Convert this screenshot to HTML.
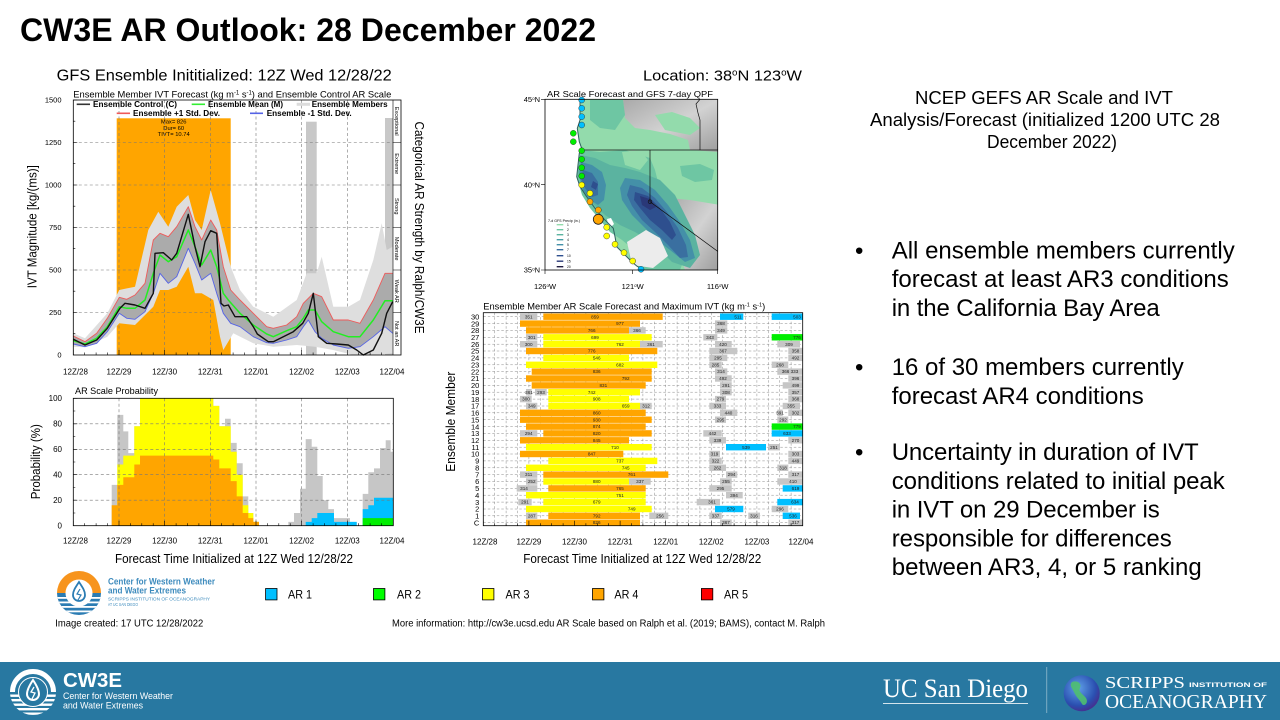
<!DOCTYPE html>
<html><head><meta charset="utf-8"><style>
body{margin:0;background:#fff}
svg{display:block}
text{font-family:"Liberation Sans",Arial,sans-serif;fill:#000}
.sr{font-family:"Liberation Serif","Times New Roman",serif}
.t5{font-size:4.6px;text-anchor:middle;fill:#222}
.o{fill:#ffa500}.y{fill:#ffff00}.g{fill:#c6c6c6}.b{fill:#00bfff}.gr{fill:#00ee00}
</style></head><body>
<svg width="1280" height="720" viewBox="0 0 1280 720" xmlns="http://www.w3.org/2000/svg">
<defs>
<clipPath id="mapclip"><rect x="545" y="99.3" width="172.7" height="170.7"/></clipPath>
<clipPath id="fl"><circle cx="33" cy="692" r="23"/></clipPath>
<clipPath id="ll"><circle cx="79" cy="593" r="22"/></clipPath>
<linearGradient id="terr" x1="0" y1="0" x2="1" y2="1"><stop offset="0" stop-color="#a9a9a9"/><stop offset="0.5" stop-color="#d2d2d2"/><stop offset="1" stop-color="#9c9c9c"/></linearGradient>
<radialGradient id="globe" cx="0.4" cy="0.35" r="0.7"><stop offset="0" stop-color="#5fa0e8"/><stop offset="0.7" stop-color="#2a4fb0"/><stop offset="1" stop-color="#4a2a8a"/></radialGradient>
</defs>

<!-- Title -->
<text x="20" y="41" font-size="32" font-weight="bold" textLength="576">CW3E AR Outlook: 28 December 2022</text>

<!-- ============ TOP-LEFT IVT CHART ============ -->
<text x="56.7" y="80.7" font-size="16" textLength="335" lengthAdjust="spacingAndGlyphs">GFS Ensemble Inititialized: 12Z Wed 12/28/22</text>
<text x="73.3" y="97.3" font-size="9.5" textLength="318" lengthAdjust="spacingAndGlyphs">Ensemble Member IVT Forecast (kg m<tspan font-size="6" baseline-shift="super">-1</tspan> s<tspan font-size="6" baseline-shift="super">-1</tspan>) and Ensemble Control AR Scale</text>

<rect x="116.7" y="118.3" width="114" height="236.7" fill="#ffa500"/>
<rect x="306" y="121.7" width="10.7" height="233.3" fill="#c8c8c8"/>
<rect x="385" y="118" width="8" height="237" fill="#c8c8c8"/>
<text x="173.7" y="123.6" font-size="5.8" text-anchor="middle">Max= 826</text>
<text x="173.7" y="129.8" font-size="5.8" text-anchor="middle">Dur= 60</text>
<text x="173.7" y="136" font-size="5.8" text-anchor="middle">TIVT= 10.74</text>

<g stroke="#777" stroke-width="0.6" stroke-dasharray="3,2.5" fill="none">
<path d="M73.3,312.5H393M73.3,270H393M73.3,227.5H393M73.3,185H393M73.3,142.5H393"/>
<path d="M119,100V355M164.6,100V355M210.3,100V355M256,100V355M301.6,100V355M347.3,100V355"/>
</g>

<polygon fill="#dedede" points="73.3,333.3 85,338.3 107.3,313.3 119.3,290 135,286.7 148.3,230 158.3,211.7 168.3,226.7 176.7,206.7 188.3,195 195,220 201.7,230 210.7,190 220,223.3 230.7,266.7 240,290 253.3,306.7 273.3,316.7 296.7,300 306.7,273.3 316.7,273.3 321.7,256.7 333.3,306.7 348.3,306.7 360,300 373.3,260 381.7,223.3 386.7,250 392.7,246.7 392.7,353.3 373.3,355 353.3,355 333.3,350 315,346.7 296.7,345 273.3,346.7 253.3,343.3 233.3,333.3 223.3,350 220,336.7 213.3,300 201.7,293.3 195,293.3 188.3,266.7 176.7,286.7 168.3,290 160,290 153.3,306.7 135,325 119.3,323.3 107.3,336.7 85,347.3 73.3,346.7"/>
<polygon fill="#ababab" points="73.3,336 85,341.7 96.7,333.3 107.3,318.3 119.3,297.3 126.7,299.3 135,295 145,283.3 153.3,240 160,233.3 168.3,236.7 176.7,226.7 188.3,206.7 195,226.7 201.7,240 210.7,220 216.7,230 223.3,266.7 230.7,290 240,300 253.3,313.3 266.7,326.7 273.3,328.3 286.7,325 296.7,316.7 303.3,303.3 313.3,293.3 321.7,296.7 333.3,320 348.3,320 360,323.3 373.3,300 385,273.3 392.7,273.3 392.7,333.3 385,326.7 373.3,336.7 360,346.7 348.3,348.3 333.3,345 321.7,338.3 315,331.7 308.3,320 303.3,326.7 296.7,336.7 286.7,340 273.3,343.3 266.7,342.7 253.3,336.7 240,326.7 230.7,323.3 223.3,313.3 216.7,293.3 210.7,273.3 201.7,280 195,263.3 188.3,248.3 176.7,276.7 168.3,283.3 160,273.3 153.3,293.3 145,311.7 135,319.3 126.7,318.3 119.3,313.3 107.3,331.7 96.7,343.3 85,346.7 73.3,344"/>
<g fill="none" stroke-linejoin="round">
<polyline stroke="#ef5a5a" stroke-width="0.9" points="73.3,336 85,341.7 96.7,333.3 107.3,318.3 119.3,297.3 126.7,299.3 135,295 145,283.3 153.3,240 160,233.3 168.3,236.7 176.7,226.7 188.3,206.7 195,226.7 201.7,240 210.7,220 216.7,230 223.3,266.7 230.7,290 240,300 253.3,313.3 266.7,326.7 273.3,328.3 286.7,325 296.7,316.7 303.3,303.3 313.3,293.3 321.7,296.7 333.3,320 348.3,320 360,323.3 373.3,300 385,273.3 392.7,273.3"/>
<polyline stroke="#5563e6" stroke-width="0.9" points="73.3,344 85,346.7 96.7,343.3 107.3,331.7 119.3,313.3 126.7,318.3 135,319.3 145,311.7 153.3,293.3 160,273.3 168.3,283.3 176.7,276.7 188.3,248.3 195,263.3 201.7,280 210.7,273.3 216.7,293.3 223.3,313.3 230.7,323.3 240,326.7 253.3,336.7 266.7,342.7 273.3,343.3 286.7,340 296.7,336.7 303.3,326.7 308.3,320 315,331.7 321.7,338.3 333.3,345 348.3,348.3 360,346.7 373.3,336.7 385,326.7 392.7,333.3"/>
<polyline stroke="#22ee22" stroke-width="1.5" points="73.3,340.7 85,344 96.7,338.3 107.3,326.7 119.3,306.7 126.7,308.3 135,308.3 145,300 153.3,273.3 160,255 168.3,261.7 176.7,256.7 188.3,230 195,246.7 201.7,265 210.7,250 216.7,266.7 223.3,293.3 228.3,300 240,313.3 253.3,325 266.7,334 273.3,336.7 286.7,330.7 296.7,326.7 303.3,318.3 308.3,310 315,310 321.7,321.7 333.3,331.7 348.3,336.7 360,336.7 373.3,320 385,300.7 392.7,300.7"/>
<polyline stroke="#111" stroke-width="1.4" points="73.3,339.3 85,345 96.7,340 107.3,328.3 120,308.3 125,303.3 135,305 145,308.3 153.3,293.3 155,253.3 163.3,252.7 171.7,260 176.7,253.3 188.3,214.3 195,246.7 200,266.7 205,241.7 210.7,230.7 216.7,233.3 221,303.3 224,306 228.3,305 235,316.7 246.7,316.7 253.3,326.7 257.3,334 268.3,341.7 273.3,341.7 283.3,336.7 293.3,331.7 302.7,323.3 308.3,313.3 313.3,293.3 318.3,336.7 326.7,343.3 336.7,344 348.3,345 356.7,350 363.3,355 373.3,350 381.7,333.3 386.7,313.3 392.7,301.7"/>
</g>

<g stroke-width="1.6">
<line x1="76.7" y1="104.3" x2="90" y2="104.3" stroke="#333"/>
<line x1="191.7" y1="104.3" x2="205" y2="104.3" stroke="#33ee33"/>
<line x1="296.7" y1="104.3" x2="310" y2="104.3" stroke="#dcdcdc" stroke-width="3"/>
<line x1="116.7" y1="113.3" x2="130" y2="113.3" stroke="#ef5a5a"/>
<line x1="250" y1="113.3" x2="263" y2="113.3" stroke="#5563e6"/>
</g>
<g font-size="8.3" font-weight="bold">
<text x="93" y="107.2" textLength="84" lengthAdjust="spacingAndGlyphs">Ensemble Control (C)</text>
<text x="208" y="107.2" textLength="75" lengthAdjust="spacingAndGlyphs">Ensemble Mean (M)</text>
<text x="311.7" y="107.2" textLength="76" lengthAdjust="spacingAndGlyphs">Ensemble Members</text>
<text x="133" y="116.2" textLength="87" lengthAdjust="spacingAndGlyphs">Ensemble +1 Std. Dev.</text>
<text x="266.7" y="116.2" textLength="85" lengthAdjust="spacingAndGlyphs">Ensemble -1 Std. Dev.</text>
</g>

<rect x="73.3" y="100" width="327.7" height="255" fill="none" stroke="#000" stroke-width="0.8"/>
<line x1="393" y1="100" x2="393" y2="355" stroke="#000" stroke-width="0.6"/>
<path d="M393,142.5H401M393,185H401M393,227.5H401M393,270H401M393,312.5H401" stroke="#000" stroke-width="0.6"/>
<g font-size="5.6" fill="#777" text-anchor="middle">
<text transform="translate(395.2,121.2) rotate(90)" fill="#777">Exceptional</text>
<text transform="translate(395.2,163.7) rotate(90)" fill="#777">Extreme</text>
<text transform="translate(395.2,206.2) rotate(90)" fill="#777">Strong</text>
<text transform="translate(395.2,248.7) rotate(90)" fill="#777">Moderate</text>
<text transform="translate(395.2,291.2) rotate(90)" fill="#777">Weak AR</text>
<text transform="translate(395.2,333.7) rotate(90)" fill="#777">Not an AR</text>
</g>
<g stroke="#000" stroke-width="0.6">
<path d="M73.3,355v-5M84.7,355v-2.5M96.1,355v-2.5M107.5,355v-2.5M119,355v-5M130.4,355v-2.5M141.8,355v-2.5M153.2,355v-2.5M164.6,355v-5M176.1,355v-2.5M187.5,355v-2.5M198.9,355v-2.5M210.3,355v-5M221.7,355v-2.5M233.1,355v-2.5M244.6,355v-2.5M256,355v-5M267.4,355v-2.5M278.8,355v-2.5M290.2,355v-2.5M301.6,355v-5M313.1,355v-2.5M324.5,355v-2.5M335.9,355v-2.5M347.3,355v-5M358.7,355v-2.5M370.1,355v-2.5M381.6,355v-2.5"/>
<path d="M73.3,100h4M73.3,142.5h4M73.3,185h4M73.3,227.5h4M73.3,270h4M73.3,312.5h4M73.3,121.2h2M73.3,163.7h2M73.3,206.2h2M73.3,248.7h2M73.3,291.2h2M73.3,333.7h2"/>
</g>
<g font-size="7.5" text-anchor="end">
<text x="61.5" y="102.7">1500</text><text x="61.5" y="145.2">1250</text><text x="61.5" y="187.7">1000</text>
<text x="61.5" y="230.2">750</text><text x="61.5" y="272.7">500</text><text x="61.5" y="315.2">250</text><text x="61.5" y="357.7">0</text>
</g>
<g font-size="8" text-anchor="middle">
<text x="75.5" y="374.5">12Z/28</text><text x="119" y="374.5">12Z/29</text><text x="164.6" y="374.5">12Z/30</text><text x="210.3" y="374.5">12Z/31</text>
<text x="256" y="374.5">12Z/01</text><text x="301.6" y="374.5">12Z/02</text><text x="347.3" y="374.5">12Z/03</text><text x="392" y="374.5">12Z/04</text>
</g>
<text transform="translate(36.5,226.7) rotate(-90)" font-size="13" text-anchor="middle" textLength="123" lengthAdjust="spacingAndGlyphs">IVT Magnitude [kg/(ms)]</text>
<text transform="translate(415,227.5) rotate(90)" font-size="13" text-anchor="middle" textLength="212" lengthAdjust="spacingAndGlyphs">Categorical AR Strength by Ralph/CW3E</text>

<!-- ============ PROBABILITY CHART ============ -->
<text x="75" y="394.2" font-size="9" textLength="83" lengthAdjust="spacingAndGlyphs">AR Scale Probability</text>
<path fill="#c6c6c6" d="M111.7,525.7V484.9H117.3V414.9H123.3V431.4H128.3V453.1H134.3V426.3H140V398.3H213.3V405.9H219.3V426.3H225V418.7H230.7V442.9H236.7V463.3H242.7V496.4H248.3V513H253.3V521.9H259V525.7Z"/>
<path fill="#ffff00" d="M117.3,525.7V464.5H123.3V455.6H134.3V426.3H140V398.3H213.3V405.9H219.3V426.3H230.7V451.8H236.7V474.7H242.7V505.3H248.3V513H253.3V521.9H259V525.7Z"/>
<path fill="#ffa500" d="M111.7,525.7V505.3H117.3V484.9H123.3V477.3H134.3V464.5H140V455.6H213.3V459.5H219.3V468.4H230.7V481.1H236.7V496.4H242.7V513H248.3V518.1H253.3V521.9H259V525.7Z"/>
<path fill="#c6c6c6" d="M288.3,525.7V521.9H294V513H300V488.8H305.7V439.1H311.7V446.7H317.3V476H322.7V500.2H328.3V509.1H334V518.1H350V521.9H356.7V525.7Z"/>
<path fill="#00bfff" d="M305.7,525.7V521.9H311.7V518.1H317.3V513H334V521.9H356.7V525.7Z"/>
<path fill="#c6c6c6" d="M362.7,525.7V493.9H368.3V472.2H374V468.4H380V448H385.7V440.3H390.7V451.8H393.3V525.7Z"/>
<path fill="#00bfff" d="M362.7,525.7V509.1H368.3V505.3H374V497.7H393.3V525.7Z"/>
<path fill="#00ee00" d="M362.7,525.7V518.1H393.3V525.7Z"/>
<g stroke="#777" stroke-width="0.6" stroke-dasharray="3,2.5" fill="none">
<path d="M73.3,500.2H393.3M73.3,474.7H393.3M73.3,449.3H393.3M73.3,423.8H393.3"/>
<path d="M119,398.3V525.7M164.6,398.3V525.7M210.3,398.3V525.7M256,398.3V525.7M301.6,398.3V525.7M347.3,398.3V525.7"/>
</g>
<rect x="73.3" y="398.3" width="320" height="127.4" fill="none" stroke="#000" stroke-width="0.8"/>
<g stroke="#000" stroke-width="0.6">
<path d="M73.3,525.7v-5M84.7,525.7v-2.5M96.1,525.7v-2.5M107.5,525.7v-2.5M119,525.7v-5M130.4,525.7v-2.5M141.8,525.7v-2.5M153.2,525.7v-2.5M164.6,525.7v-5M176.1,525.7v-2.5M187.5,525.7v-2.5M198.9,525.7v-2.5M210.3,525.7v-5M221.7,525.7v-2.5M233.1,525.7v-2.5M244.6,525.7v-2.5M256,525.7v-5M267.4,525.7v-2.5M278.8,525.7v-2.5M290.2,525.7v-2.5M301.6,525.7v-5M313.1,525.7v-2.5M324.5,525.7v-2.5M335.9,525.7v-2.5M347.3,525.7v-5M358.7,525.7v-2.5M370.1,525.7v-2.5M381.6,525.7v-2.5"/>
<path d="M73.3,398.3h4M73.3,423.8h4M73.3,449.3h4M73.3,474.7h4M73.3,500.2h4M73.3,411h2M73.3,436.5h2M73.3,462h2M73.3,487.5h2M73.3,513h2"/>
</g>
<g font-size="8" text-anchor="end">
<text x="62" y="401">100</text><text x="62" y="426.5">80</text><text x="62" y="452">60</text><text x="62" y="477.4">40</text><text x="62" y="502.9">20</text><text x="62" y="528.4">0</text>
</g>
<g font-size="8" text-anchor="middle">
<text x="75.5" y="543.5">12Z/28</text><text x="119" y="543.5">12Z/29</text><text x="164.6" y="543.5">12Z/30</text><text x="210.3" y="543.5">12Z/31</text>
<text x="256" y="543.5">12Z/01</text><text x="301.6" y="543.5">12Z/02</text><text x="347.3" y="543.5">12Z/03</text><text x="392" y="543.5">12Z/04</text>
</g>
<text transform="translate(40,461.7) rotate(-90)" font-size="13" text-anchor="middle" textLength="75" lengthAdjust="spacingAndGlyphs">Probability (%)</text>
<text x="115" y="562.8" font-size="12.5" textLength="238" lengthAdjust="spacingAndGlyphs">Forecast Time Initialized at 12Z Wed 12/28/22</text>

<!-- ============ MAP ============ -->
<text x="643" y="80.5" font-size="15" textLength="159" lengthAdjust="spacingAndGlyphs">Location: 38<tspan font-size="9" baseline-shift="super">o</tspan>N 123<tspan font-size="9" baseline-shift="super">o</tspan>W</text>
<text x="547" y="97" font-size="8.5" textLength="166" lengthAdjust="spacingAndGlyphs">AR Scale Forecast and GFS 7-day QPF</text>
<g clip-path="url(#mapclip)">
<rect x="545" y="99.3" width="172.7" height="170.7" fill="#fff"/>
<path fill="#93dbac" d="M580,99.3L580,120L577.3,128.3L579.3,141.7L581.7,148.3L579.3,153.3L576.7,176.7L580,186.7L586.7,196.7L595,208.3L601.7,216.7L608.3,223.3L613.3,228.3L615,236.7L616.7,246.7L623.3,253.3L630,260L636.7,266L643.3,270L720,270L720,99.3Z"/>
<path fill="url(#terr)" d="M623,99.3L720,99.3L720,152L690,150L688,140L670,134L650,130L635,128L625,118Z"/>
<path fill="#c0c0c0" d="M623,152L638,150L642,158L630,161Z"/>
<path fill="url(#terr)" d="M668,198L690,200L720,205L720,270L685,270L680,255L672,235L668,215Z"/>
<path fill="#93dbac" d="M655,115L672,112L690,118L700,128L690,135L665,130Z"/>
<path fill="#6ec6a3" d="M590,100L623,100L625,115L615,130L600,128L590,120Z"/>
<path fill="#6ec6a3" d="M581,150L600,152L625,150L650,158L655,170L660,190L665,210L670,225L678,245L683,262L680,270L645,270L630,262L628,245L622,240L610,232L600,220L590,208L582,195L577,177Z"/>
<path fill="#6ec6a3" d="M680,166L700,164L714,170L712,180L695,182L682,176Z"/>
<path fill="#93dbac" d="M622,152L640,150L648,160L640,170L625,165Z"/>
<path fill="#5bb3a0" d="M580,155L595,158L610,165L625,168L640,172L660,180L675,195L685,215L695,235L700,255L690,268L672,262L660,250L648,240L635,232L620,225L605,215L592,203L583,190L578,172Z"/>
<path fill="#4490a8" d="M581,162L592,165L602,172L606,185L604,200L598,205L590,200L583,190L579,175Z"/>
<path fill="#4490a8" d="M625,178L640,180L655,190L668,205L680,222L690,240L695,258L685,262L670,250L657,240L645,228L632,215L622,200L620,188Z"/>
<path fill="#3a6fa0" d="M583,170L592,173L598,182L598,195L592,197L585,188L581,178Z"/>
<path fill="#3a6fa0" d="M630,185L642,188L655,198L667,212L678,228L686,245L688,257L680,258L668,245L655,232L642,220L632,206L627,195Z"/>
<path fill="#2e4f8e" d="M635,192L648,196L660,208L670,222L676,235L672,240L662,230L650,220L640,208L634,200Z"/>
<path fill="#2e4f8e" d="M593,181L598,184L596,190L591,187Z"/>
<path fill="#2a3878" d="M640,196L650,199L656,207L650,210L642,205Z"/>
<path fill="#ececec" d="M627,242L646,230L660,238L668,256L653,268L632,265Z"/>
<path fill="#fff" d="M607,219L611,218L614,224L611,227L608,224Z"/>
<g fill="none" stroke="#111" stroke-width="0.7">
<path d="M580,150H720"/>
<path d="M650,150V201.7L720,253"/>
<path d="M700,99.3L696,104L698,113L700,120V150"/>
<circle cx="650" cy="201.7" r="1.8"/>
</g>
<path fill="none" stroke="#2d5f5f" stroke-width="1" d="M580,99.3L580,120L577.3,128.3L579.3,141.7L581.7,148.3L579.3,153.3L576.7,176.7L580,186.7L586.7,196.7L595,208.3L601.7,216.7L608.3,223.3L613.3,228.3L615,236.7L616.7,246.7L623.3,253.3L630,260L636.7,266L643.3,270"/>
<text x="548" y="222" font-size="3.6" fill="#333">7-d GFS Precip (in.)</text>
<g stroke="none">
<rect x="556.7" y="224" width="6.6" height="1.4" fill="#93dbac"/><rect x="556.7" y="229" width="6.6" height="1.4" fill="#6ec6a3"/>
<rect x="556.7" y="234" width="6.6" height="1.4" fill="#5bb3a0"/><rect x="556.7" y="239" width="6.6" height="1.4" fill="#4a9ea6"/>
<rect x="556.7" y="244" width="6.6" height="1.4" fill="#4490a8"/><rect x="556.7" y="249" width="6.6" height="1.4" fill="#3a6fa0"/>
<rect x="556.7" y="255" width="6.6" height="1.4" fill="#2e4f8e"/><rect x="556.7" y="260.5" width="6.6" height="1.4" fill="#2a3878"/>
<rect x="556.7" y="266" width="6.6" height="1.4" fill="#1e1a40"/>
</g>
<g font-size="3.3" fill="#333">
<text x="567" y="226">1</text><text x="567" y="231">2</text><text x="567" y="236">3</text><text x="567" y="241">4</text><text x="567" y="246">5</text><text x="567" y="251">7</text><text x="567" y="257">10</text><text x="567" y="262.5">15</text><text x="567" y="268">20</text>
</g>
</g>
<g stroke="#222" stroke-width="0.4">
<circle cx="581.7" cy="100" r="3" fill="#00bfff"/><circle cx="581.7" cy="108.3" r="3" fill="#00bfff"/><circle cx="581.7" cy="116.7" r="3" fill="#00bfff"/><circle cx="581.7" cy="125" r="3" fill="#00bfff"/>
<circle cx="573.3" cy="133.3" r="3" fill="#00ee00"/><circle cx="573.3" cy="141.7" r="3" fill="#00ee00"/><circle cx="581.7" cy="150.7" r="3" fill="#00ee00"/><circle cx="581.7" cy="159.3" r="3" fill="#00ee00"/><circle cx="581.7" cy="167.7" r="3" fill="#00ee00"/><circle cx="581.7" cy="176" r="3" fill="#00ee00"/>
<circle cx="581.7" cy="185" r="3" fill="#ffff00"/><circle cx="590" cy="193.3" r="3" fill="#ffff00"/>
<circle cx="590" cy="201.7" r="3" fill="#ffa500"/><circle cx="598.3" cy="210" r="3" fill="#ffa500"/>
<circle cx="598.3" cy="219.3" r="5" fill="#ffa500" stroke-width="0.8"/>
<circle cx="606.7" cy="227.3" r="3" fill="#ffff00"/><circle cx="606.7" cy="236" r="3" fill="#ffff00"/><circle cx="615" cy="244.3" r="3" fill="#ffff00"/><circle cx="624" cy="252.7" r="3" fill="#ffff00"/><circle cx="632.7" cy="261" r="3" fill="#ffff00"/>
<circle cx="641" cy="269.3" r="3" fill="#00bfff"/>
</g>
<rect x="545" y="99.3" width="172.7" height="170.7" fill="none" stroke="#000" stroke-width="0.8"/>
<g stroke="#000" stroke-width="0.6"><path d="M545,99.3h-4M545,184.7h-4M545,270h-4M545,270v4M632.7,270v4M717.7,270v4"/></g>
<g font-size="7.5" text-anchor="end">
<text x="540" y="102">45<tspan font-size="4.5" baseline-shift="super">o</tspan>N</text>
<text x="540" y="187.4">40<tspan font-size="4.5" baseline-shift="super">o</tspan>N</text>
<text x="540" y="272.7">35<tspan font-size="4.5" baseline-shift="super">o</tspan>N</text>
</g>
<g font-size="7.5" text-anchor="middle">
<text x="545" y="289">126<tspan font-size="4.5" baseline-shift="super">o</tspan>W</text>
<text x="632.7" y="289">121<tspan font-size="4.5" baseline-shift="super">o</tspan>W</text>
<text x="717.7" y="289">116<tspan font-size="4.5" baseline-shift="super">o</tspan>W</text>
</g>

<!-- ============ ENSEMBLE MEMBER CHART ============ -->
<text x="483.3" y="309.5" font-size="9" textLength="282" lengthAdjust="spacingAndGlyphs">Ensemble Member AR Scale Forecast and Maximum IVT (kg m<tspan font-size="5.5" baseline-shift="super">-1</tspan> s<tspan font-size="5.5" baseline-shift="super">-1</tspan>)</text>
<g stroke="#888" stroke-width="0.5" stroke-dasharray="2.5,2" fill="none">
<path d="M494.7,312.7V525.7M506.1,312.7V525.7M517.5,312.7V525.7M528.9,312.7V525.7M540.3,312.7V525.7M551.7,312.7V525.7M563.1,312.7V525.7M574.5,312.7V525.7M585.9,312.7V525.7M597.3,312.7V525.7M608.7,312.7V525.7M620.1,312.7V525.7M631.5,312.7V525.7M642.9,312.7V525.7M654.3,312.7V525.7M665.7,312.7V525.7M677.1,312.7V525.7M688.5,312.7V525.7M699.9,312.7V525.7M711.3,312.7V525.7M722.7,312.7V525.7M734.1,312.7V525.7M745.5,312.7V525.7M756.9,312.7V525.7M768.3,312.7V525.7M779.7,312.7V525.7M791.1,312.7V525.7"/>
<path d="M483.3,316.7H802.7M483.3,323.6H802.7M483.3,330.4H802.7M483.3,337.3H802.7M483.3,344.2H802.7M483.3,351H802.7M483.3,357.9H802.7M483.3,364.8H802.7M483.3,371.6H802.7M483.3,378.5H802.7M483.3,385.4H802.7M483.3,392.2H802.7M483.3,399.1H802.7M483.3,406H802.7M483.3,412.8H802.7M483.3,419.7H802.7M483.3,426.6H802.7M483.3,433.4H802.7M483.3,440.3H802.7M483.3,447.2H802.7M483.3,454H802.7M483.3,460.9H802.7M483.3,467.8H802.7M483.3,474.6H802.7M483.3,481.5H802.7M483.3,488.4H802.7M483.3,495.2H802.7M483.3,502.1H802.7M483.3,509H802.7M483.3,515.8H802.7M483.3,522.7H802.7"/>
</g>
<g>
<rect class="g" x="520" y="313.5" width="17.3" height="6.4"/><rect class="o" x="543.3" y="313.5" width="119.4" height="6.4"/><rect class="b" x="720" y="313.5" width="23.3" height="6.4"/><rect class="b" x="771.7" y="313.5" width="31" height="6.4"/>
<rect class="o" x="520" y="320.4" width="120" height="6.4"/><rect class="g" x="715" y="320.4" width="12.3" height="6.4"/>
<rect class="o" x="526" y="327.2" width="103" height="6.4"/><rect class="g" x="629" y="327.2" width="16.7" height="6.4"/><rect class="g" x="715" y="327.2" width="12.3" height="6.4"/>
<rect class="g" x="526" y="334.1" width="11.3" height="6.4"/><rect class="y" x="543.3" y="334.1" width="108.4" height="6.4"/><rect class="g" x="703.3" y="334.1" width="14" height="6.4"/><rect class="gr" x="771.7" y="334.1" width="31" height="6.4"/>
<rect class="g" x="520" y="341" width="17.3" height="6.4"/><rect class="y" x="543.3" y="341" width="96.7" height="6.4"/><rect class="g" x="640" y="341" width="22.7" height="6.4"/><rect class="g" x="715" y="341" width="16.7" height="6.4"/><rect class="g" x="777.3" y="341" width="22.7" height="6.4"/>
<rect class="o" x="526" y="347.8" width="131.3" height="6.4"/><rect class="g" x="709.3" y="347.8" width="28" height="6.4"/><rect class="g" x="788.3" y="347.8" width="14.4" height="6.4"/>
<rect class="y" x="543.3" y="354.7" width="85.7" height="6.4"/><rect class="g" x="709.3" y="354.7" width="18" height="6.4"/><rect class="g" x="788.3" y="354.7" width="14.4" height="6.4"/>
<rect class="y" x="526" y="361.6" width="131.3" height="6.4"/><rect class="g" x="709.3" y="361.6" width="12.4" height="6.4"/><rect class="g" x="771.7" y="361.6" width="16.6" height="6.4"/>
<rect class="o" x="531.7" y="368.4" width="120" height="6.4"/><rect class="g" x="715" y="368.4" width="12.3" height="6.4"/><rect class="g" x="777.3" y="368.4" width="25.4" height="6.4"/>
<rect class="o" x="526" y="375.3" width="125.7" height="6.4"/><rect class="g" x="715" y="375.3" width="16.7" height="6.4"/><rect class="g" x="788.3" y="375.3" width="14.4" height="6.4"/>
<rect class="o" x="531.7" y="382.2" width="114" height="6.4"/><rect class="g" x="720" y="382.2" width="11.7" height="6.4"/><rect class="g" x="782.7" y="382.2" width="20" height="6.4"/>
<rect class="g" x="526" y="389" width="5.7" height="6.4"/><rect class="g" x="535" y="389" width="11.7" height="6.4"/><rect class="y" x="548.3" y="389" width="91.7" height="6.4"/><rect class="g" x="720" y="389" width="11.7" height="6.4"/><rect class="g" x="788.3" y="389" width="14.4" height="6.4"/>
<rect class="g" x="520" y="395.9" width="11.7" height="6.4"/><rect class="y" x="548.3" y="395.9" width="80.7" height="6.4"/><rect class="g" x="715" y="395.9" width="11" height="6.4"/><rect class="g" x="788.3" y="395.9" width="14.4" height="6.4"/>
<rect class="g" x="526" y="402.8" width="11.3" height="6.4"/><rect class="y" x="548.3" y="402.8" width="91.7" height="6.4"/><rect class="g" x="640" y="402.8" width="11.7" height="6.4"/><rect class="g" x="709.3" y="402.8" width="16.7" height="6.4"/><rect class="g" x="782.7" y="402.8" width="17.3" height="6.4"/>
<rect class="o" x="520" y="409.6" width="125.7" height="6.4"/><rect class="g" x="720" y="409.6" width="17.3" height="6.4"/><rect class="g" x="777.3" y="409.6" width="5.4" height="6.4"/><rect class="g" x="788.3" y="409.6" width="14.4" height="6.4"/>
<rect class="o" x="520" y="416.5" width="131.7" height="6.4"/><rect class="g" x="715" y="416.5" width="11" height="6.4"/><rect class="g" x="777.3" y="416.5" width="11" height="6.4"/>
<rect class="o" x="526" y="423.4" width="119.7" height="6.4"/><rect class="gr" x="771.7" y="423.4" width="31" height="6.4"/>
<rect class="g" x="520" y="430.2" width="17.3" height="6.4"/><rect class="o" x="543.3" y="430.2" width="108.4" height="6.4"/><rect class="g" x="703.3" y="430.2" width="18.4" height="6.4"/><rect class="b" x="771.7" y="430.2" width="31" height="6.4"/>
<rect class="o" x="520" y="437.1" width="109" height="6.4"/><rect class="g" x="709.3" y="437.1" width="16.7" height="6.4"/><rect class="g" x="788.3" y="437.1" width="14.4" height="6.4"/>
<rect class="y" x="526" y="444" width="125.7" height="6.4"/><rect class="b" x="726" y="444" width="40" height="6.4"/><rect class="g" x="768.3" y="444" width="11.7" height="6.4"/>
<rect class="o" x="520" y="450.8" width="103.3" height="6.4"/><rect class="g" x="709.3" y="450.8" width="10.7" height="6.4"/><rect class="g" x="788.3" y="450.8" width="14.4" height="6.4"/>
<rect class="y" x="548.3" y="457.7" width="109" height="6.4"/><rect class="g" x="709.3" y="457.7" width="12.4" height="6.4"/><rect class="g" x="788.3" y="457.7" width="14.4" height="6.4"/>
<rect class="y" x="526" y="464.6" width="119.7" height="6.4"/><rect class="g" x="709.3" y="464.6" width="16.7" height="6.4"/><rect class="g" x="777.3" y="464.6" width="11" height="6.4"/>
<rect class="g" x="520" y="471.4" width="17.3" height="6.4"/><rect class="o" x="543.3" y="471.4" width="125" height="6.4"/><rect class="g" x="726" y="471.4" width="11.3" height="6.4"/><rect class="g" x="788.3" y="471.4" width="14.4" height="6.4"/>
<rect class="g" x="526" y="478.3" width="11.3" height="6.4"/><rect class="y" x="543.3" y="478.3" width="85.7" height="6.4"/><rect class="g" x="629" y="478.3" width="21.7" height="6.4"/><rect class="g" x="720" y="478.3" width="11.7" height="6.4"/><rect class="g" x="777.3" y="478.3" width="25.4" height="6.4"/>
<rect class="g" x="516.7" y="485.2" width="20.6" height="6.4"/><rect class="o" x="548.3" y="485.2" width="97.4" height="6.4"/><rect class="g" x="709.3" y="485.2" width="22.4" height="6.4"/><rect class="b" x="782.7" y="485.2" width="20" height="6.4"/>
<rect class="y" x="526" y="492" width="119.7" height="6.4"/><rect class="g" x="726" y="492" width="16.7" height="6.4"/>
<rect class="g" x="518.3" y="498.9" width="13.4" height="6.4"/><rect class="y" x="543.3" y="498.9" width="102.4" height="6.4"/><rect class="g" x="696.7" y="498.9" width="23.3" height="6.4"/><rect class="b" x="777.3" y="498.9" width="25.4" height="6.4"/>
<rect class="y" x="526" y="505.8" width="125.7" height="6.4"/><rect class="b" x="715" y="505.8" width="28.3" height="6.4"/><rect class="g" x="771.7" y="505.8" width="16.6" height="6.4"/>
<rect class="g" x="526" y="512.6" width="11.3" height="6.4"/><rect class="o" x="548.3" y="512.6" width="91.7" height="6.4"/><rect class="g" x="649.3" y="512.6" width="19" height="6.4"/><rect class="g" x="709.3" y="512.6" width="12.4" height="6.4"/><rect class="g" x="748.3" y="512.6" width="11.7" height="6.4"/><rect class="b" x="782.7" y="512.6" width="17.3" height="6.4"/>
<rect class="o" x="526" y="519.5" width="114" height="6.2"/><rect class="g" x="720" y="519.5" width="11.7" height="6.2"/><rect class="g" x="788.3" y="519.5" width="14.4" height="6.2"/>
</g>
<g>
<text class="t5" x="528.7" y="318.3">351</text><text class="t5" x="595" y="318.3">859</text><text class="t5" x="738" y="318.3">511</text><text class="t5" x="797" y="318.3">503</text>
<text class="t5" x="620" y="325.2">977</text><text class="t5" x="721" y="325.2">368</text>
<text class="t5" x="591.7" y="332">766</text><text class="t5" x="637" y="332">366</text><text class="t5" x="721" y="332">349</text>
<text class="t5" x="531.7" y="338.9">301</text><text class="t5" x="595" y="338.9">699</text><text class="t5" x="710" y="338.9">343</text><text class="t5" x="797" y="338.9">776</text>
<text class="t5" x="528.7" y="345.8">300</text><text class="t5" x="620" y="345.8">762</text><text class="t5" x="651" y="345.8">361</text><text class="t5" x="723" y="345.8">420</text><text class="t5" x="789" y="345.8">309</text>
<text class="t5" x="591.7" y="352.6">776</text><text class="t5" x="723" y="352.6">367</text><text class="t5" x="795.5" y="352.6">358</text>
<text class="t5" x="596.7" y="359.5">546</text><text class="t5" x="718" y="359.5">295</text><text class="t5" x="795.5" y="359.5">492</text>
<text class="t5" x="620" y="366.4">682</text><text class="t5" x="715.5" y="366.4">285</text><text class="t5" x="780" y="366.4">268</text>
<text class="t5" x="596.7" y="373.2">836</text><text class="t5" x="721" y="373.2">314</text><text class="t5" x="790" y="373.2">366 333</text>
<text class="t5" x="625.7" y="380.1">792</text><text class="t5" x="723" y="380.1">492</text><text class="t5" x="795.5" y="380.1">396</text>
<text class="t5" x="603.3" y="387">831</text><text class="t5" x="726" y="387">291</text><text class="t5" x="795.5" y="387">499</text>
<text class="t5" x="529" y="393.8">361</text><text class="t5" x="541" y="393.8">293</text><text class="t5" x="591.7" y="393.8">742</text><text class="t5" x="726" y="393.8">308</text><text class="t5" x="795.5" y="393.8">357</text>
<text class="t5" x="526" y="400.7">300</text><text class="t5" x="596.7" y="400.7">908</text><text class="t5" x="720.5" y="400.7">279</text><text class="t5" x="795.5" y="400.7">368</text>
<text class="t5" x="531.7" y="407.6">349</text><text class="t5" x="625.7" y="407.6">659</text><text class="t5" x="646" y="407.6">312</text><text class="t5" x="717.5" y="407.6">333</text><text class="t5" x="791" y="407.6">355</text>
<text class="t5" x="596.7" y="414.4">860</text><text class="t5" x="728.5" y="414.4">440</text><text class="t5" x="780" y="414.4">391</text><text class="t5" x="795.5" y="414.4">302</text>
<text class="t5" x="596.7" y="421.3">930</text><text class="t5" x="720.5" y="421.3">295</text><text class="t5" x="783" y="421.3">292</text>
<text class="t5" x="596.7" y="428.2">874</text><text class="t5" x="797" y="428.2">779</text>
<text class="t5" x="528.7" y="435">294</text><text class="t5" x="596.7" y="435">820</text><text class="t5" x="712.5" y="435">442</text><text class="t5" x="787" y="435">633</text>
<text class="t5" x="596.7" y="441.9">845</text><text class="t5" x="717.5" y="441.9">339</text><text class="t5" x="795.5" y="441.9">270</text>
<text class="t5" x="615" y="448.8">710</text><text class="t5" x="746" y="448.8">539</text><text class="t5" x="774" y="448.8">251</text>
<text class="t5" x="591.7" y="455.6">847</text><text class="t5" x="714.5" y="455.6">319</text><text class="t5" x="795.5" y="455.6">303</text>
<text class="t5" x="620" y="462.5">737</text><text class="t5" x="715.5" y="462.5">322</text><text class="t5" x="795.5" y="462.5">449</text>
<text class="t5" x="625.7" y="469.4">745</text><text class="t5" x="717.5" y="469.4">262</text><text class="t5" x="783" y="469.4">318</text>
<text class="t5" x="528.7" y="476.2">311</text><text class="t5" x="631.7" y="476.2">761</text><text class="t5" x="731.5" y="476.2">294</text><text class="t5" x="795.5" y="476.2">317</text>
<text class="t5" x="531.7" y="483.1">252</text><text class="t5" x="596.7" y="483.1">880</text><text class="t5" x="640" y="483.1">337</text><text class="t5" x="726" y="483.1">255</text><text class="t5" x="793" y="483.1">410</text>
<text class="t5" x="524" y="490">314</text><text class="t5" x="620" y="490">765</text><text class="t5" x="720.5" y="490">295</text><text class="t5" x="795.5" y="490">619</text>
<text class="t5" x="620" y="496.8">751</text><text class="t5" x="734" y="496.8">394</text>
<text class="t5" x="525" y="503.7">291</text><text class="t5" x="596.7" y="503.7">679</text><text class="t5" x="712" y="503.7">361</text><text class="t5" x="795" y="503.7">634</text>
<text class="t5" x="631.7" y="510.6">749</text><text class="t5" x="731" y="510.6">579</text><text class="t5" x="780" y="510.6">296</text>
<text class="t5" x="531.7" y="517.4">287</text><text class="t5" x="596.7" y="517.4">792</text><text class="t5" x="660" y="517.4">256</text><text class="t5" x="715.5" y="517.4">337</text><text class="t5" x="754" y="517.4">316</text><text class="t5" x="793" y="517.4">536</text>
<text class="t5" x="596.7" y="524.2">826</text><text class="t5" x="726" y="524.2">367</text><text class="t5" x="795.5" y="524.2">317</text>
</g>
<rect x="483.3" y="312.7" width="319.4" height="213" fill="none" stroke="#000" stroke-width="0.8"/>
<g stroke="#000" stroke-width="0.6">
<path d="M483.3,525.7v-5M494.7,525.7v-2.5M506.1,525.7v-2.5M517.5,525.7v-2.5M528.9,525.7v-5M540.3,525.7v-2.5M551.7,525.7v-2.5M563.1,525.7v-2.5M574.5,525.7v-5M585.9,525.7v-2.5M597.3,525.7v-2.5M608.7,525.7v-2.5M620.1,525.7v-5M631.5,525.7v-2.5M642.9,525.7v-2.5M654.3,525.7v-2.5M665.7,525.7v-5M677.1,525.7v-2.5M688.5,525.7v-2.5M699.9,525.7v-2.5M711.3,525.7v-5M722.7,525.7v-2.5M734.1,525.7v-2.5M745.5,525.7v-2.5M756.9,525.7v-5M768.3,525.7v-2.5M779.7,525.7v-2.5M791.1,525.7v-2.5"/>
</g>
<g font-size="7.5" text-anchor="end">
<text x="479.3" y="319.4">30</text><text x="479.3" y="326.3">29</text><text x="479.3" y="333.1">28</text><text x="479.3" y="340">27</text><text x="479.3" y="346.9">26</text><text x="479.3" y="353.7">25</text><text x="479.3" y="360.6">24</text><text x="479.3" y="367.5">23</text><text x="479.3" y="374.3">22</text><text x="479.3" y="381.2">21</text><text x="479.3" y="388.1">20</text><text x="479.3" y="394.9">19</text><text x="479.3" y="401.8">18</text><text x="479.3" y="408.7">17</text><text x="479.3" y="415.5">16</text><text x="479.3" y="422.4">15</text><text x="479.3" y="429.3">14</text><text x="479.3" y="436.1">13</text><text x="479.3" y="443">12</text><text x="479.3" y="449.9">11</text><text x="479.3" y="456.7">10</text><text x="479.3" y="463.6">9</text><text x="479.3" y="470.5">8</text><text x="479.3" y="477.3">7</text><text x="479.3" y="484.2">6</text><text x="479.3" y="491.1">5</text><text x="479.3" y="497.9">4</text><text x="479.3" y="504.8">3</text><text x="479.3" y="511.7">2</text><text x="479.3" y="518.5">1</text><text x="479.3" y="525.4">C</text>
</g>
<g font-size="8" text-anchor="middle">
<text x="485" y="544.5">12Z/28</text><text x="528.9" y="544.5">12Z/29</text><text x="574.5" y="544.5">12Z/30</text><text x="620.1" y="544.5">12Z/31</text>
<text x="665.7" y="544.5">12Z/01</text><text x="711.3" y="544.5">12Z/02</text><text x="756.9" y="544.5">12Z/03</text><text x="801" y="544.5">12Z/04</text>
</g>
<text transform="translate(455,421.7) rotate(-90)" font-size="13" text-anchor="middle" textLength="100" lengthAdjust="spacingAndGlyphs">Ensemble Member</text>
<text x="523.3" y="562.8" font-size="12.5" textLength="238" lengthAdjust="spacingAndGlyphs">Forecast Time Initialized at 12Z Wed 12/28/22</text>

<!-- ============ BOTTOM LEGEND ============ -->
<g clip-path="url(#ll)">
<rect x="55" y="569" width="48" height="24" fill="#f7941d"/>
<rect x="55" y="593" width="48" height="24" fill="#2b7cb3"/>
<g fill="#fff"><rect x="55" y="597" width="48" height="1.8"/><rect x="55" y="601.5" width="48" height="1.8"/><rect x="55" y="606" width="48" height="1.8"/><rect x="55" y="610.5" width="48" height="1.8"/></g>
</g>
<circle cx="79" cy="593" r="13.5" fill="#fff"/>
<path d="M79,582C75,588 73,591 73,595A6,6 0 0 0 85,595C85,591 83,588 79,582Z" fill="none" stroke="#2b7cb3" stroke-width="1.8"/>
<path d="M80,589L77,594L81,595L78,600" fill="none" stroke="#2b7cb3" stroke-width="1.2"/>
<text x="108" y="584.3" font-size="9.5" font-weight="bold" style="fill:#3d8bbd" textLength="107" lengthAdjust="spacingAndGlyphs">Center for Western Weather</text>
<text x="108" y="593.3" font-size="9.5" font-weight="bold" style="fill:#3d8bbd" textLength="78" lengthAdjust="spacingAndGlyphs">and Water Extremes</text>
<text x="108" y="600.5" font-size="4.2" style="fill:#3d8bbd" textLength="102" lengthAdjust="spacingAndGlyphs">SCRIPPS INSTITUTION OF OCEANOGRAPHY</text>
<text x="108" y="606" font-size="4.2" style="fill:#3d8bbd" textLength="30" lengthAdjust="spacingAndGlyphs">AT UC SAN DIEGO</text>

<g stroke="#000" stroke-width="0.8">
<rect x="265.6" y="588.5" width="11.4" height="11.4" fill="#00bfff"/>
<rect x="373.5" y="588.5" width="11.4" height="11.4" fill="#00ff00"/>
<rect x="482.5" y="588.5" width="11.4" height="11.4" fill="#ffff00"/>
<rect x="592.5" y="588.5" width="11.4" height="11.4" fill="#ffa500"/>
<rect x="701.4" y="588.5" width="11.4" height="11.4" fill="#ff0000"/>
</g>
<g font-size="12">
<text x="288" y="598.5" textLength="24" lengthAdjust="spacingAndGlyphs">AR 1</text>
<text x="397" y="598.5" textLength="24" lengthAdjust="spacingAndGlyphs">AR 2</text>
<text x="505.5" y="598.5" textLength="24" lengthAdjust="spacingAndGlyphs">AR 3</text>
<text x="614.4" y="598.5" textLength="24" lengthAdjust="spacingAndGlyphs">AR 4</text>
<text x="724" y="598.5" textLength="24" lengthAdjust="spacingAndGlyphs">AR 5</text>
</g>
<text x="55.3" y="626.5" font-size="10" textLength="148" lengthAdjust="spacingAndGlyphs">Image created: 17 UTC 12/28/2022</text>
<text x="392" y="626.5" font-size="10" textLength="433" lengthAdjust="spacingAndGlyphs">More information: http://cw3e.ucsd.edu  AR Scale based on Ralph et al. (2019; BAMS), contact M. Ralph</text>

<!-- ============ RIGHT TEXT ============ -->
<g font-size="18" text-anchor="middle">
<text x="1044" y="104" textLength="258" lengthAdjust="spacingAndGlyphs">NCEP GEFS AR Scale and IVT</text>
<text x="1045" y="126" textLength="350" lengthAdjust="spacingAndGlyphs">Analysis/Forecast (initialized 1200 UTC 28</text>
<text x="1052" y="148" textLength="130" lengthAdjust="spacingAndGlyphs">December 2022)</text>
</g>
<g font-size="24">
<text x="855" y="258.3">•</text>
<text x="891.7" y="258.3" textLength="343" lengthAdjust="spacing">All ensemble members currently</text>
<text x="891.7" y="287.1" textLength="337" lengthAdjust="spacing">forecast at least AR3 conditions</text>
<text x="891.7" y="315.9" textLength="268" lengthAdjust="spacing">in the California Bay Area</text>
<text x="855" y="375">•</text>
<text x="891.7" y="375" textLength="292" lengthAdjust="spacing">16 of 30 members currently</text>
<text x="891.7" y="403.8" textLength="252" lengthAdjust="spacing">forecast AR4 conditions</text>
<text x="855" y="460">•</text>
<text x="891.7" y="460" textLength="307" lengthAdjust="spacing">Uncertainty in duration of IVT</text>
<text x="891.7" y="488.8" textLength="333" lengthAdjust="spacing">conditions related to initial peak</text>
<text x="891.7" y="517.6" textLength="268" lengthAdjust="spacing">in IVT on 29 December is</text>
<text x="891.7" y="546.4" textLength="280" lengthAdjust="spacing">responsible for differences</text>
<text x="891.7" y="575.2" textLength="310" lengthAdjust="spacing">between AR3, 4, or 5 ranking</text>
</g>

<!-- ============ FOOTER ============ -->
<rect x="0" y="662" width="1280" height="58" fill="#2878a1"/>
<g clip-path="url(#fl)">
<g fill="#fff"><rect x="8" y="694.5" width="50" height="2.4"/><rect x="8" y="699" width="50" height="2.4"/><rect x="8" y="703.5" width="50" height="2.4"/><rect x="8" y="708" width="50" height="2.4"/><rect x="8" y="712.5" width="50" height="2.4"/></g>
</g>
<path d="M12.5,692A20.5,20.5 0 0 1 53.5,692" fill="none" stroke="#fff" stroke-width="5"/>
<circle cx="33" cy="692" r="14.5" fill="#2878a1"/>
<circle cx="33" cy="692" r="14.5" fill="none" stroke="#fff" stroke-width="1"/>
<path d="M33,680C29,686 27,690 27,694A6,6 0 0 0 39,694C39,690 37,686 33,680Z" fill="none" stroke="#fff" stroke-width="2"/>
<path d="M34,687L31,692L35,693L32,699" fill="none" stroke="#fff" stroke-width="1.3"/>
<text x="63" y="687" font-size="20" font-weight="bold" style="fill:#fff" textLength="59" lengthAdjust="spacingAndGlyphs">CW3E</text>
<text x="63" y="699" font-size="9.5" style="fill:#fff" textLength="110" lengthAdjust="spacingAndGlyphs">Center for Western Weather</text>
<text x="63" y="708.5" font-size="9.5" style="fill:#fff" textLength="80" lengthAdjust="spacingAndGlyphs">and Water Extremes</text>

<text class="sr" x="883" y="697" font-size="26" style="fill:#fff" textLength="145" lengthAdjust="spacingAndGlyphs">UC San Diego</text>
<rect x="883" y="703" width="145" height="1" fill="#fff" opacity="0.8"/>
<line x1="1046.7" y1="667" x2="1046.7" y2="713" stroke="#fff" stroke-opacity="0.4" stroke-width="1"/>
<circle cx="1081.7" cy="693.3" r="18" fill="url(#globe)"/>
<path d="M1072,682C1077,680 1082,683 1080,688C1078,692 1083,694 1086,698C1089,703 1084,707 1082,704C1080,700 1076,697 1074,692C1072,688 1069,685 1072,682Z" fill="#4fbf6f" opacity="0.9"/>
<text class="sr" x="1105" y="688" font-size="17" style="fill:#fff" textLength="80" lengthAdjust="spacingAndGlyphs">SCRIPPS</text>
<text x="1189" y="687" font-size="6.3" font-weight="bold" style="fill:#fff" textLength="78" lengthAdjust="spacingAndGlyphs">INSTITUTION OF</text>
<text class="sr" x="1105" y="708" font-size="20" style="fill:#fff" textLength="162" lengthAdjust="spacingAndGlyphs">OCEANOGRAPHY</text>
</svg>
</body></html>
